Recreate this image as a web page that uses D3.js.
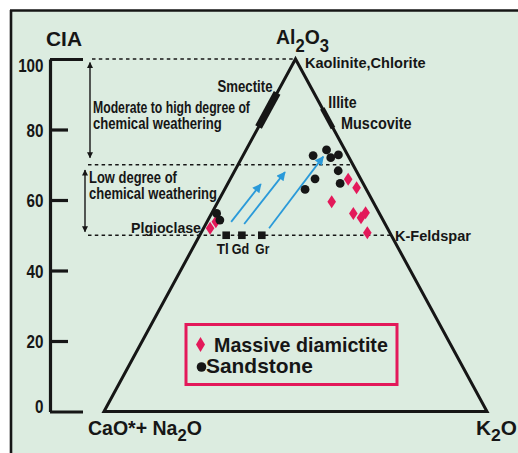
<!DOCTYPE html>
<html><head><meta charset="utf-8">
<script src="https://cdn.jsdelivr.net/npm/d3@7"></script>
<style>
html,body{margin:0;padding:0;background:#fff;}
svg{display:block;}
</style></head>
<body>
<svg id="c" width="518" height="453"></svg>
<script>
// ---- data (ternary: [Al2O3, CaO*+Na2O, K2O]) ----
const ciaTicks = [0, 20, 40, 60, 80, 100];
const ciaGuides = [100, 70, 50];
const diamictite = [
  [65.9, 3.3, 30.8], [63.5, 2.3, 34.2], [59.5, 10.8, 29.7], [56.2, 6.8, 37.0],
  [55.0, 5.4, 39.6], [56.4, 3.5, 40.1], [50.7, 5.9, 43.4], [52.0, 46.3, 1.7],
  [53.8, 43.9, 2.3]
];
const sandstone = [
  [72.6, 9.1, 18.3], [74.2, 4.8, 21.0], [72.0, 4.8, 23.2], [72.8, 2.4, 24.8],
  [68.3, 4.7, 27.0], [66.0, 11.9, 22.1], [63.0, 16.0, 21.0], [64.7, 6.0, 29.3],
  [56.2, 42.5, 1.3], [54.3, 42.6, 3.1]
];
const sourceRocks = ["Tl", "Gd", "Gr"];
const sourceValues = [[50, 43.1, 6.9], [50, 39.0, 11.0], [50, 33.8, 16.2]];
const trendStart = [[53.8, 39.9, 6.3], [53.2, 36.8, 10.0], [52.0, 30.9, 17.1]];
const trendEnd = [[64.5, 26.8, 8.7], [67.9, 18.8, 13.3], [72.3, 6.6, 21.1]];
const smectiteRange = [80.7, 90.4];  // along A–CN join
const illiteRange = [80.4, 86.0];    // along A–K join
const weatheringBands = [
  {from: 99, to: 72, lines: ["Moderate to high degree of", "chemical weathering"]},
  {from: 68.5, to: 51, lines: ["Low degree of", "chemical weathering"]}
];
const legendLabels = ["Massive diamictite", "Sandstone"];

// ---- layout ----
const svg = d3.select("#c");
const BG = "#dcece0";
const RED = "#e3195a";
const BLUE = "#2a9ad9";
const INK = "#161616";
const SANS = "'Liberation Sans',Arial,sans-serif";

const y = d3.scaleLinear().domain([0, 100]).range([411.5, 59]);
const u = d3.scaleLinear().domain([0, 100]).range([104, 487]);
const proj = d => [u(d[2] + d[0] / 2), y(d[0])];

// text helper: draws text and squeezes it horizontally to a target width
function fitText(x, yy, parts, size, width, anchor, weight) {
  const g = svg.append("g").attr("transform", `translate(${x},${yy})`);
  const t = g.append("text").attr("font-family", SANS).attr("font-weight", weight || "bold")
    .attr("font-size", size).attr("fill", INK).attr("text-anchor", anchor || "start");
  if (typeof parts === "string") t.text(parts);
  else parts.forEach(p => t.append("tspan").text(p[0]).attr("dy", p[1]).attr("font-size", p[2] || size));
  const w = t.node().getComputedTextLength();
  if (width) g.attr("transform", `translate(${x},${yy}) scale(${width / w},1)`);
  return g;
}

// background & frame
svg.append("rect").attr("x", 11).attr("y", 11).attr("width", 507).attr("height", 442).attr("fill", BG);
svg.append("line").attr("x1", 10).attr("x2", 518).attr("y1", 10.5).attr("y2", 10.5).attr("stroke", INK).attr("stroke-width", 2.6);
svg.append("line").attr("x1", 11).attr("x2", 11).attr("y1", 10).attr("y2", 453).attr("stroke", INK).attr("stroke-width", 2.6);

// CIA axis
const ax = svg.append("g").attr("transform", "translate(50,0)")
  .call(d3.axisLeft(y).tickValues(ciaTicks).tickSizeInner(-18).tickSizeOuter(0).tickPadding(7));
ax.select(".domain").attr("stroke", INK).attr("stroke-width", 3.2);
ax.selectAll(".tick line").attr("stroke", INK).attr("stroke-width", 3.2)
  .attr("x2", d => (d === 0 || d === 100) ? 33 : 18);
ax.selectAll(".tick text").attr("fill", INK).attr("font-family", SANS).attr("font-weight", "bold")
  .attr("font-size", 19).attr("x", 0)
  .attr("transform", "translate(-6.5,0) scale(0.8,1)")
  .attr("dy", d => d === 100 ? "0.66em" : d === 0 ? "0.04em" : "0.36em");
fitText(46, 46, "CIA", 19.5, 36);

// guide dashed lines
const rightEdgeX = a => u(100 - a / 2);
svg.selectAll(".guide").data(ciaGuides).join("line")
  .attr("x1", d => d === 100 ? 92 : 88)
  .attr("x2", d => rightEdgeX(d))
  .attr("y1", d => y(d)).attr("y2", d => y(d))
  .attr("stroke", INK).attr("stroke-width", 1.6).attr("stroke-dasharray", "3.5,3.3");

// triangle
const verts = [[100, 0, 0], [0, 100, 0], [0, 0, 100]].map(proj);
svg.append("path").attr("d", "M" + verts.map(p => p.join(",")).join("L") + "Z")
  .attr("fill", "none").attr("stroke", INK).attr("stroke-width", 3).attr("stroke-linejoin", "miter");

// mineral segments
const smect = smectiteRange.map(a => proj([a, 100 - a, 0]));
svg.append("line").attr("x1", smect[0][0]).attr("y1", smect[0][1]).attr("x2", smect[1][0]).attr("y2", smect[1][1])
  .attr("stroke", INK).attr("stroke-width", 7.5);
const ill = illiteRange.map(a => proj([a, 0, 100 - a]));
svg.append("line").attr("x1", ill[0][0]).attr("y1", ill[0][1]).attr("x2", ill[1][0]).attr("y2", ill[1][1])
  .attr("stroke", INK).attr("stroke-width", 5);

// arrow markers
const defs = svg.append("defs");
defs.append("marker").attr("id", "ah").attr("viewBox", "0 0 10 10").attr("refX", 9).attr("refY", 5)
  .attr("markerWidth", 9).attr("markerHeight", 6).attr("markerUnits", "userSpaceOnUse").attr("orient", "auto-start-reverse")
  .append("path").attr("d", "M0,0L10,5L0,10Z").attr("fill", INK);
defs.append("marker").attr("id", "bh").attr("viewBox", "0 0 10 10").attr("refX", 9).attr("refY", 5)
  .attr("markerWidth", 11).attr("markerHeight", 9).attr("markerUnits", "userSpaceOnUse").attr("orient", "auto")
  .append("path").attr("d", "M0,0L10,5L0,10Z").attr("fill", BLUE);

// weathering bands
const bandX = [90, 85];
const bandTextX = [93, 89];
const bandTextY = [[113, 129], [182.5, 198.5]];
const bandTextW = [[157, 129], [88, 128]];
weatheringBands.forEach((b, i) => {
  svg.append("line").attr("x1", bandX[i]).attr("x2", bandX[i]).attr("y1", y(b.from)).attr("y2", y(b.to))
    .attr("stroke", INK).attr("stroke-width", 1.4)
    .attr("marker-start", "url(#ah)").attr("marker-end", "url(#ah)");
  b.lines.forEach((line, j) => fitText(bandTextX[i], bandTextY[i][j], line, 16, bandTextW[i][j]));
});

// trend arrows
trendStart.forEach((s, i) => {
  const a = proj(s), b = proj(trendEnd[i]);
  svg.append("line").attr("x1", a[0]).attr("y1", a[1]).attr("x2", b[0]).attr("y2", b[1])
    .attr("stroke", BLUE).attr("stroke-width", 1.8).attr("marker-end", "url(#bh)");
});

// source rocks
svg.selectAll(".src").data(sourceValues).join("rect")
  .attr("x", d => proj(d)[0] - 3.8).attr("y", d => proj(d)[1] - 3.8)
  .attr("width", 7.6).attr("height", 7.6).attr("fill", INK);
const srcDx = [-3.5, -1.5, 0.5];
const srcW = [12, 17.5, 14];
sourceValues.forEach((d, i) => fitText(proj(d)[0] + srcDx[i], 254, sourceRocks[i], 15, srcW[i], "middle"));

// data points
const diamond = "M0,-6.5L4.3,0L0,6.5L-4.3,0Z";
svg.selectAll(".dm").data(diamictite).join("path")
  .attr("transform", d => "translate(" + proj(d) + ")").attr("d", diamond).attr("fill", RED);
svg.selectAll(".ss").data(sandstone).join("circle")
  .attr("cx", d => proj(d)[0]).attr("cy", d => proj(d)[1]).attr("r", 4.4).attr("fill", INK);

// mineral labels
fitText(305, 68.3, "Kaolinite,Chlorite", 15, 120.7);
fitText(272.5, 92.3, "Smectite", 16, 55, "end");
fitText(328.3, 108.3, "Illite", 16, 28.4);
fitText(341, 128.8, "Muscovite", 16.5, 70.7);
fitText(201, 232.8, "Plgioclase", 14, 70, "end");
fitText(395, 240.7, "K-Feldspar", 14.5, 76);

// vertex labels
fitText(276, 43.5, [["Al", 0], ["2", 8, 18], ["O", -8], ["3", 8, 18]], 21, 53);
fitText(88, 435, [["CaO*+ Na", 0], ["2", 6, 17], ["O", -6]], 20, 114);
fitText(476, 435, [["K", 0], ["2", 6, 17], ["O", -6]], 20, 41);

// legend
svg.append("rect").attr("x", 186).attr("y", 324.5).attr("width", 211).attr("height", 60)
  .attr("fill", "none").attr("stroke", RED).attr("stroke-width", 3);
svg.append("path").attr("transform", "translate(200.5,344.5)").attr("d", "M0,-7.5L4.5,0L0,7.5L-4.5,0Z").attr("fill", RED);
svg.append("circle").attr("cx", 201.5).attr("cy", 367).attr("r", 4.8).attr("fill", INK);
const legX = [214, 206];
const legW = [174, 107];
legendLabels.forEach((l, i) => fitText(legX[i], 351.5 + i * 21.5, l, 19.5, legW[i]));
</script>
</body></html>
